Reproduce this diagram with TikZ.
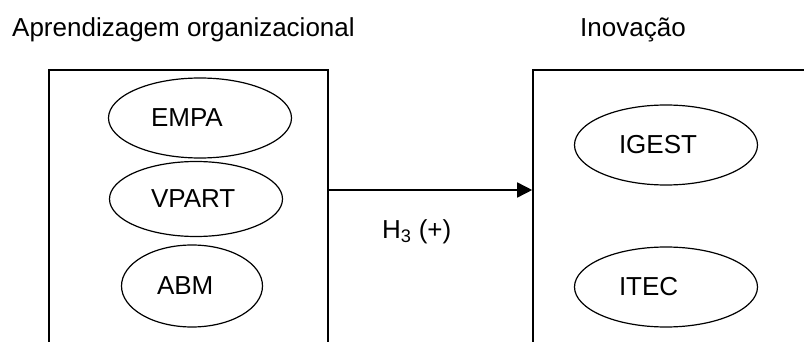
\documentclass[tikz,border=0pt]{standalone}
\usepackage{fontspec}
\setmainfont{Liberation Sans}
\usepackage{tikz}
\usetikzlibrary{arrows.meta,positioning,shapes.geometric}

\begin{document}
\begin{tikzpicture}[x=1pt,y=-1pt,
  font=\fontsize{26}{31}\selectfont,
  box/.style={draw,line width=1.6pt,inner sep=0pt},
  ell/.style={draw,ellipse,line width=1.2pt,inner sep=0pt,align=left},
  arrow/.style={-{Triangle[length=15pt,width=15pt]},line width=1.6pt}
]
\useasboundingbox (0,0) rectangle (804,342);
\clip (0,0) rectangle (804,342);

% blocks
\node[box,minimum width=279pt,minimum height=330pt] (learn) at (188.5,235) {};
\node[box,minimum width=367pt,minimum height=330pt] (innov) at (716.5,235) {};

\node[anchor=base west,inner sep=0pt] (titleL) at (12,37) {Aprendizagem organizacional};
\node[anchor=base west,inner sep=0pt] (titleR) at (580,37) {Inovação};

% constructs
\node[ell,minimum width=183pt,minimum height=80pt,text width=98pt] (empa) at (200,118) {EMPA};
\node[ell,minimum width=173pt,minimum height=75pt,text width=90pt] (vpart) at (196,199) {VPART};
\node[ell,minimum width=141pt,minimum height=82pt,text width=70pt] (abm) at (192,286) {ABM};
\node[ell,minimum width=183pt,minimum height=80pt,text width=94pt] (igest) at (666,145) {IGEST};
\node[ell,minimum width=183pt,minimum height=80pt,text width=94pt] (itec) at (666,287) {ITEC};

\draw[arrow] ([yshift=45pt]learn.east) -- ([yshift=45pt]innov.west);
\node[anchor=base west,inner sep=0pt] (h3) at (382,238) {H\textsubscript{3} (+)};
\end{tikzpicture}
\end{document}
